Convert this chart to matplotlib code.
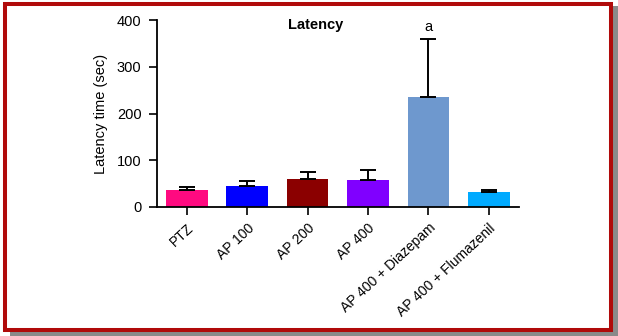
import matplotlib
matplotlib.use("Agg")
import matplotlib.pyplot as plt
from matplotlib.patches import Rectangle
from matplotlib.transforms import ScaledTranslation

categories = ["PTZ", "AP 100", "AP 200", "AP 400", "AP 400 + Diazepam", "AP 400 + Flumazenil"]
means = [36, 45, 59, 57, 236, 32]
errors = [6, 11, 16, 22, 124, 4]
colors = ["#FF0A80", "#0000FF", "#8B0000", "#8000FF", "#6E98CE", "#00AAFF"]
yticks = [0, 100, 200, 300, 400]
annotation = "a"
annot_index = 4

plt.rcParams['font.family'] = ['Liberation Sans', 'DejaVu Sans']

W, H = 618, 336
fig = plt.figure(figsize=(W / 100, H / 100), dpi=100)

# frame: shadow and red border
fig.patches.append(Rectangle((10 / W, 0), (W - 10) / W, 5 / H, transform=fig.transFigure,
                             facecolor="#8a8a8a", edgecolor="none", zorder=-3))
fig.patches.append(Rectangle((613 / W, 0), 5 / W, (H - 6) / H, transform=fig.transFigure,
                             facecolor="#8a8a8a", edgecolor="none", zorder=-3))
fig.patches.append(Rectangle((5 / W, 1 - 330 / H), 606 / W, 326.5 / H, transform=fig.transFigure,
                             facecolor="white", edgecolor="#B00A0A", linewidth=2.9, zorder=-2))

ax = fig.add_axes([156.7 / W, 1 - 207 / H, (519 - 156.7) / W, (207 - 20) / H])
ax.set_zorder(2)
ax.set_facecolor("none")
x = list(range(len(categories)))
ax.bar(x, means, width=0.69, color=colors, zorder=2)
ax.errorbar(x, means, yerr=[[0] * len(errors), errors], fmt="none", ecolor="black",
            elinewidth=1.4, capsize=5.5, capthick=1.4, zorder=3)

ax.set_xlim(-0.5, 5.5)
ax.set_ylim(0, 400)
ax.set_yticks(yticks)
ax.set_xticks(x)
ax.set_xticklabels(categories, rotation=43, ha="right", va="top", rotation_mode="anchor", fontsize=10)
offset = ScaledTranslation(6 / 100, 0, fig.dpi_scale_trans)
for lbl in ax.get_xticklabels():
    lbl.set_transform(lbl.get_transform() + offset)
ax.tick_params(axis="y", labelsize=10.5, length=6, width=1.2, pad=5)
ax.tick_params(axis="x", length=6, width=1.2, pad=4)
for s in ["top", "right"]:
    ax.spines[s].set_visible(False)
for s in ["left", "bottom"]:
    ax.spines[s].set_linewidth(1.3)
ax.set_ylabel("Latency time (sec)", fontsize=10.5, labelpad=6)
ax.text(0.44, 389, "Latency", transform=ax.get_yaxis_transform(),
        fontsize=10.5, fontweight="bold", ha="center", va="center")
ax.text(annot_index, means[annot_index] + errors[annot_index] + 9, annotation,
        ha="center", va="bottom", fontsize=10.5)

fig.savefig("out.png", dpi=100)
